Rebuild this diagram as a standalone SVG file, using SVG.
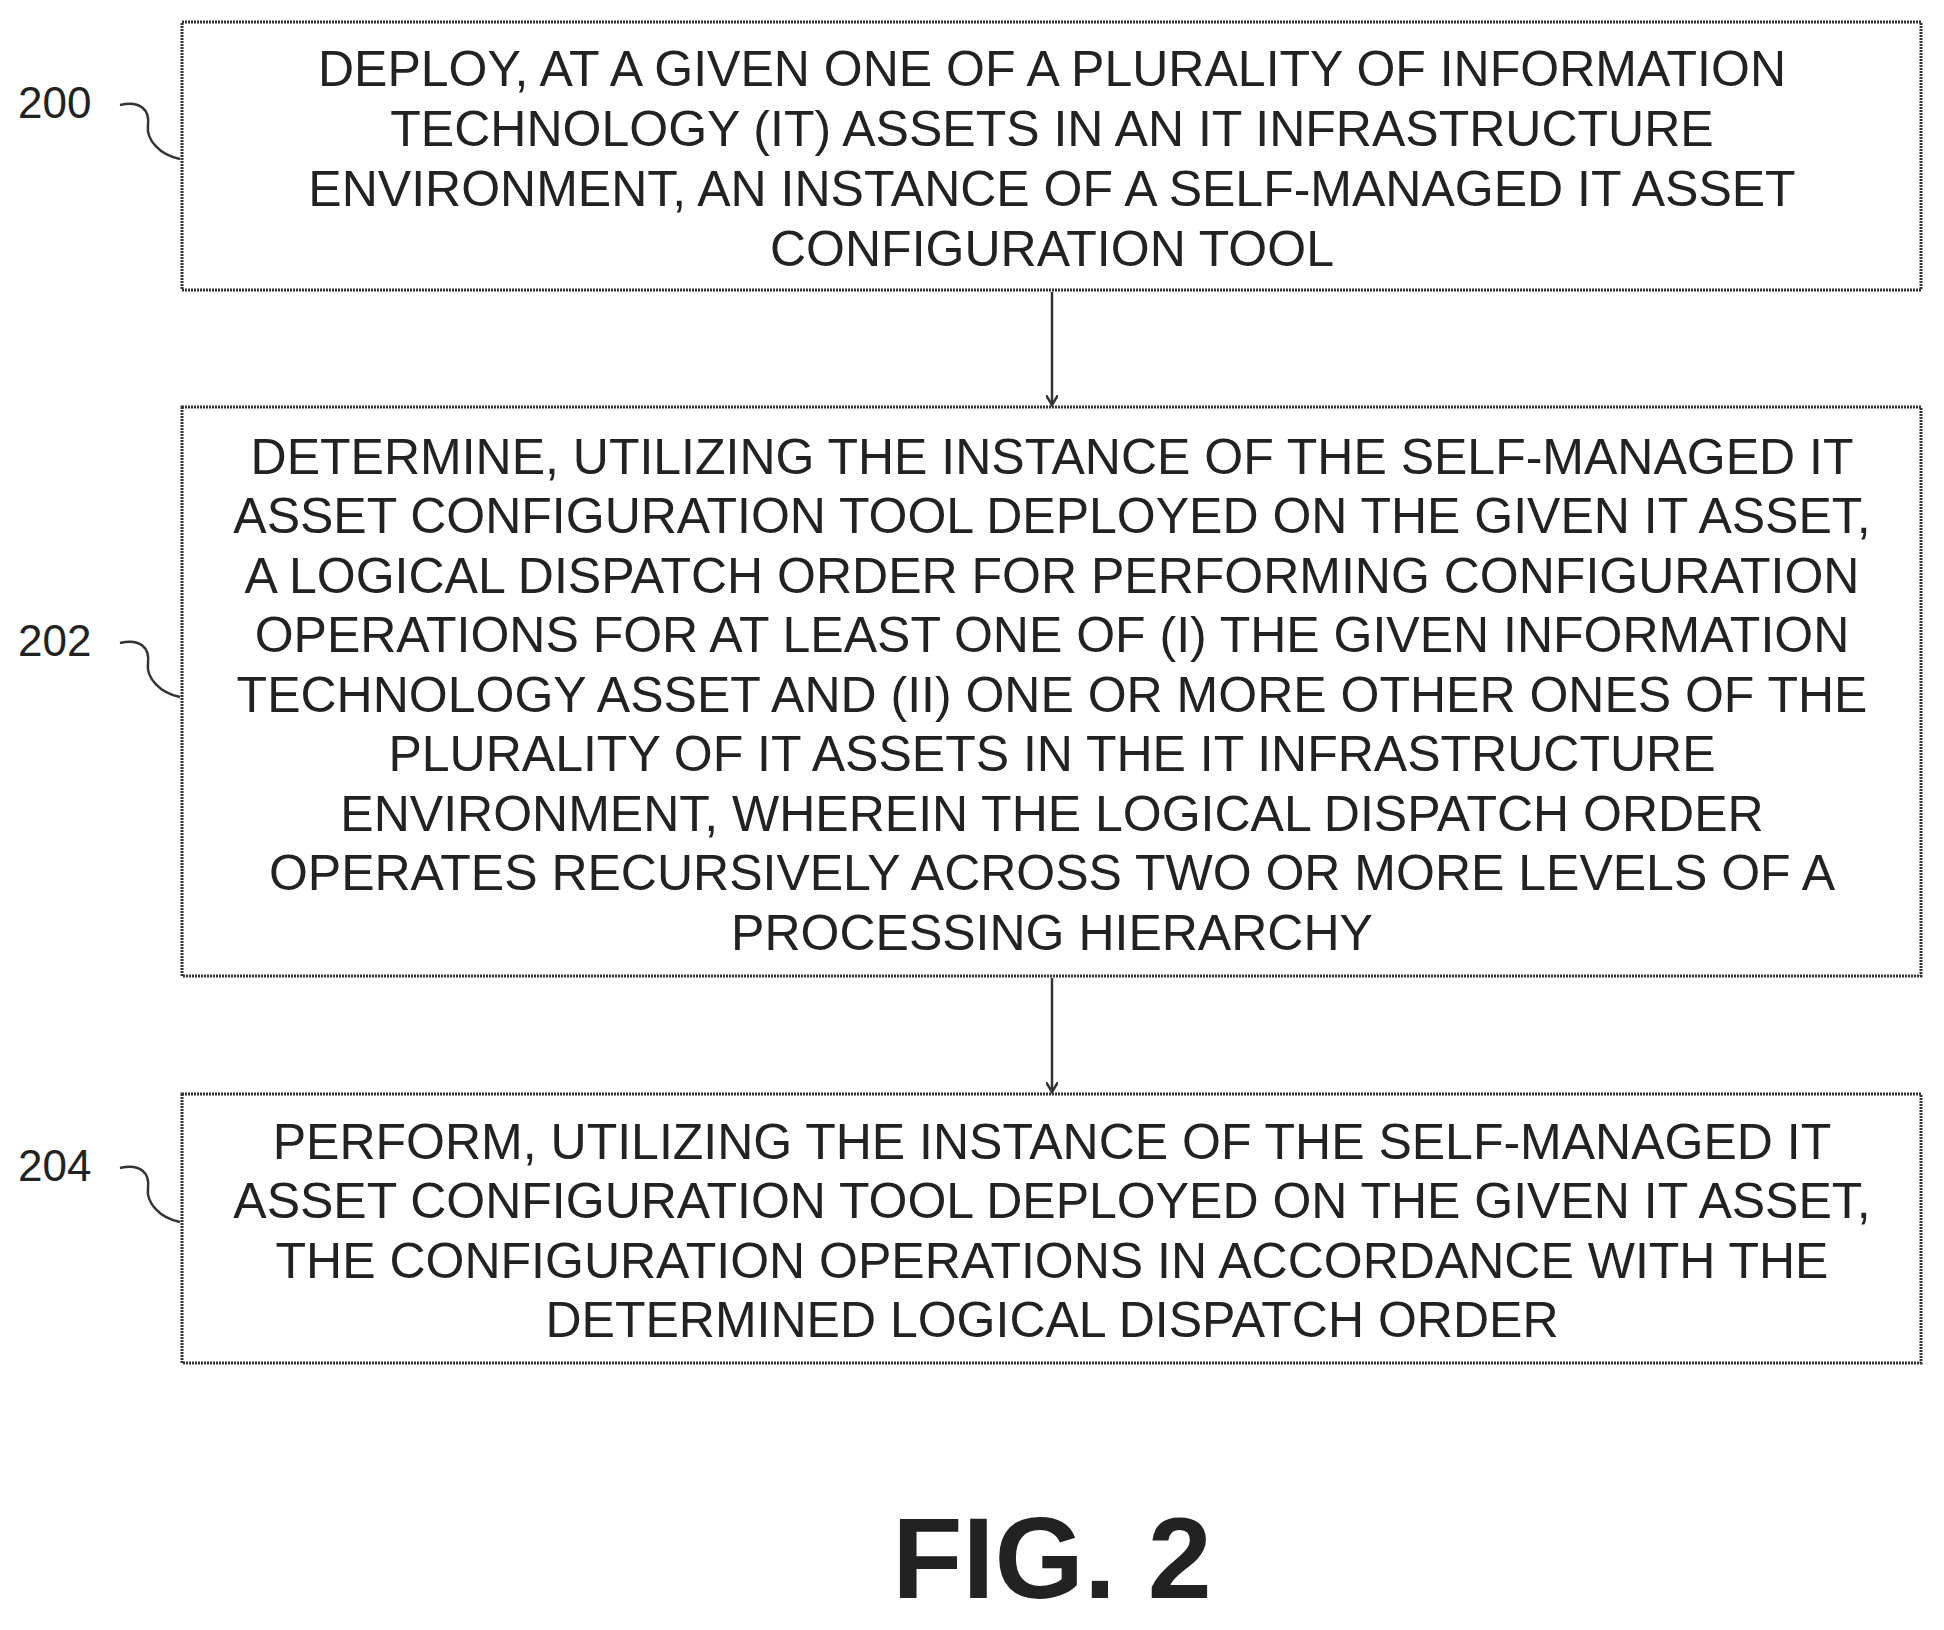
<svg xmlns="http://www.w3.org/2000/svg" width="1944" height="1630" viewBox="0 0 1944 1630">
<defs>
<style>
.b{fill:#fff;stroke:#333;stroke-width:3;stroke-dasharray:2 1}
.t{font-family:"Liberation Sans",Arial,sans-serif;font-size:50px;fill:#222;text-anchor:middle}
.l{font-family:"Liberation Sans",Arial,sans-serif;font-size:44px;fill:#222}
.c{fill:none;stroke:#333;stroke-width:2.5}
</style>
<marker id="a" markerWidth="12" markerHeight="12" refX="10" refY="6" orient="auto" markerUnits="userSpaceOnUse"><path d="M0,0 L10,6 L0,12" fill="none" stroke="#333" stroke-width="2.5"/></marker>
</defs>
<rect width="1944" height="1630" fill="#fff"/>
<g id="connectors">
<line class="c" x1="1052" y1="292" x2="1052" y2="405" marker-end="url(#a)"/>
<line class="c" x1="1052" y1="978" x2="1052" y2="1092" marker-end="url(#a)"/>
<path class="c" d="M120,105 C140,100 150,110 148,125 C146,140 160,155 180,159"/>
<path class="c" d="M120,643 C140,638 150,648 148,663 C146,678 160,693 180,697"/>
<path class="c" d="M120,1168 C140,1163 150,1173 148,1188 C146,1203 160,1218 180,1222"/>
</g>
<g id="n200">
<rect class="b" x="182" y="22" width="1739" height="268"/>
<text class="t" x="1052" y="86">DEPLOY, AT A GIVEN ONE OF A PLURALITY OF INFORMATION</text>
<text class="t" x="1052" y="146">TECHNOLOGY (IT) ASSETS IN AN IT INFRASTRUCTURE</text>
<text class="t" x="1052" y="206">ENVIRONMENT, AN INSTANCE OF A SELF-MANAGED IT ASSET</text>
<text class="t" x="1052" y="266">CONFIGURATION TOOL</text>
<text class="l" x="18" y="118">200</text>
</g>
<g id="n202">
<rect class="b" x="182" y="407" width="1739" height="569"/>
<text class="t" x="1052" y="474">DETERMINE, UTILIZING THE INSTANCE OF THE SELF-MANAGED IT</text>
<text class="t" x="1052" y="533">ASSET CONFIGURATION TOOL DEPLOYED ON THE GIVEN IT ASSET,</text>
<text class="t" x="1052" y="593">A LOGICAL DISPATCH ORDER FOR PERFORMING CONFIGURATION</text>
<text class="t" x="1052" y="652">OPERATIONS FOR AT LEAST ONE OF (I) THE GIVEN INFORMATION</text>
<text class="t" x="1052" y="712">TECHNOLOGY ASSET AND (II) ONE OR MORE OTHER ONES OF THE</text>
<text class="t" x="1052" y="771">PLURALITY OF IT ASSETS IN THE IT INFRASTRUCTURE</text>
<text class="t" x="1052" y="831">ENVIRONMENT, WHEREIN THE LOGICAL DISPATCH ORDER</text>
<text class="t" x="1052" y="890">OPERATES RECURSIVELY ACROSS TWO OR MORE LEVELS OF A</text>
<text class="t" x="1052" y="950">PROCESSING HIERARCHY</text>
<text class="l" x="18" y="656">202</text>
</g>
<g id="n204">
<rect class="b" x="182" y="1094" width="1739" height="269"/>
<text class="t" x="1052" y="1159">PERFORM, UTILIZING THE INSTANCE OF THE SELF-MANAGED IT</text>
<text class="t" x="1052" y="1218">ASSET CONFIGURATION TOOL DEPLOYED ON THE GIVEN IT ASSET,</text>
<text class="t" x="1052" y="1278">THE CONFIGURATION OPERATIONS IN ACCORDANCE WITH THE</text>
<text class="t" x="1052" y="1337">DETERMINED LOGICAL DISPATCH ORDER</text>
<text class="l" x="18" y="1181">204</text>
</g>
<text x="1052" y="1598" font-family="Liberation Sans,Arial,sans-serif" font-weight="bold" font-size="115" fill="#222" text-anchor="middle">FIG. 2</text>
</svg>
